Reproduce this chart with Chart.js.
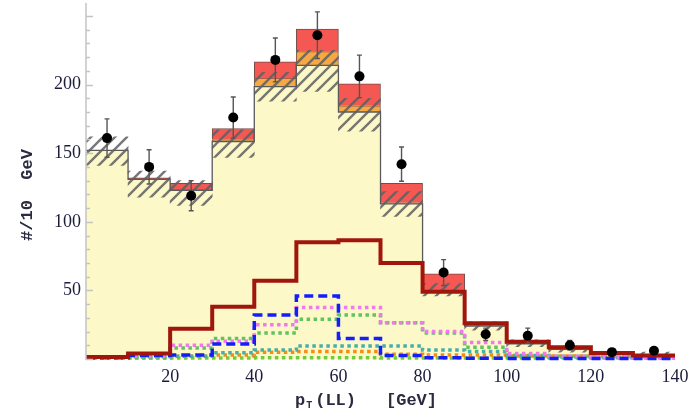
<!DOCTYPE html>
<html>
<head>
<meta charset="utf-8">
<script src="https://cdn.jsdelivr.net/npm/chart.js@4.4.0/dist/chart.umd.min.js"></script>
<style>
  html, body { margin: 0; padding: 0; background: #fff; }
</style>
</head>
<body>
<canvas id="ptChart" width="694" height="419"></canvas>
<script>
// p_T(LL) histogram, 10 GeV bins from 0 to 140
const binEdges   = [0, 10, 20, 30, 40, 50, 60, 70, 80, 90, 100, 110, 120, 130, 140];
const binCenters = [5, 15, 25, 35, 45, 55, 65, 75, 85, 95, 105, 115, 125, 135];

// stacked backgrounds (events / 10 GeV)
const bkgMain   = [152, 131, 123, 158.5, 198.5, 214, 180, 113, 49.5, 24, 11, 7, 3.5, 2];
const bkgOrange = [0, 0, 0, 1.5, 6, 10, 4.5, 1, 0, 0, 0, 0, 0, 0];
const bkgRed    = [0, 1, 5, 8, 12, 16.5, 16, 14, 12.5, 2.5, 1.5, 2, 1, 0.5];

// uncertainty band on the background
const bandLow  = [141, 118, 112, 147, 188, 195, 166, 104, 46, 21, 9, 5, 2, 1];
const bandHigh = [162, 137, 130, 167, 209, 225, 190, 122, 55, 27, 14, 9, 5, 5];

// individual components drawn as step lines
const compDarkRed = [1.5, 4, 22, 38, 57, 85, 86.5, 70, 49, 26, 12.6, 8.5, 4.3, 2.5];
const compBlue    = [1, 2.5, 3, 11, 32, 46, 15, 2.5, 1, 0.5, 0.4, 0.3, 0.3, 0.3];
const compMagenta = [1, 2, 10, 13, 25, 37.5, 37.5, 26.5, 20, 12, 4, 2, 1.5, 1];
const compGreen   = [1, 1.5, 8, 15, 19, 29, 32, 26.5, 19, 8.5, 3, 2, 1.5, 1];
const compTeal    = [1, 1, 2, 4.5, 6.5, 9.5, 9.5, 9.5, 6.5, 5.5, 2.5, 1.5, 1, 1];
const compOrange  = [1.2, 1.5, 2, 3, 5, 5.5, 5.5, 3.5, 3, 3, 2.2, 2.2, 2.2, 2.2];
const compLime    = [0.8, 0.8, 0.8, 0.8, 0.9, 0.9, 0.9, 0.8, 0.8, 0.8, 0.8, 0.8, 0.8, 0.8];

// measured data with symmetric errors
const dataY   = [161, 140, 119, 176, 218, 236, 206, 142, 63, 18, 17, 10, 5, 6];
const dataErr = [14, 12.5, 11, 15, 16, 17, 15.5, 12.5, 9.4, 4.5, 5.5, 3.5, 2.5, 2.5];

const yTickStep = 10;
const xTickStep = 20;

// ---- helpers to build library data from the arrays ----
function floatingBars(lo, hi) {
  return binCenters.map((x, i) => ({ x: x, y: [lo[i], hi[i]] }));
}
// one point per left bin edge, plus the closing edge at 140
function stepLine(values) {
  return binEdges.map((x, i) => ({ x: x, y: values[Math.min(i, values.length - 1)] }));
}
const orangeTop = bkgMain.map((v, i) => v + bkgOrange[i]);
const redTop = orangeTop.map((v, i) => v + bkgRed[i]);

// diagonal hatching for the uncertainty band
function makeHatch() {
  const c = document.createElement('canvas');
  c.width = 12; c.height = 12;
  const g = c.getContext('2d');
  g.strokeStyle = 'rgba(95,95,95,0.85)';
  g.lineWidth = 2.4;
  g.beginPath();
  g.moveTo(-3, 15); g.lineTo(15, -3);
  g.moveTo(-9, 9); g.lineTo(9, -9);
  g.moveTo(3, 21); g.lineTo(21, 3);
  g.stroke();
  return document.getElementById('ptChart').getContext('2d').createPattern(c, 'repeat');
}

function stepDataset(label, values, color, width, dash, order) {
  return {
    type: 'line', label: label, data: stepLine(values),
    stepped: 'before', borderColor: color, borderWidth: width,
    borderDash: dash, borderCapStyle: 'butt', borderJoinStyle: 'miter',
    pointRadius: 0, fill: false, order: order, clip: 4
  };
}

const barCommon = { type: 'bar', grouped: false, barPercentage: 1, categoryPercentage: 1 };

// error bars under the data points
const errorBars = {
  id: 'errorBars',
  beforeDatasetDraw(chart, args) {
    if (chart.data.datasets[args.index].label !== 'data') return;
    const { ctx, scales: { x, y } } = chart;
    ctx.save();
    ctx.strokeStyle = '#555';
    ctx.lineWidth = 1.4;
    binCenters.forEach((c, i) => {
      const px = x.getPixelForValue(c);
      const top = y.getPixelForValue(dataY[i] + dataErr[i]);
      const bot = y.getPixelForValue(dataY[i] - dataErr[i]);
      ctx.beginPath();
      ctx.moveTo(px, top); ctx.lineTo(px, bot);
      ctx.moveTo(px - 2.5, top); ctx.lineTo(px + 2.5, top);
      ctx.moveTo(px - 2.5, bot); ctx.lineTo(px + 2.5, bot);
      ctx.stroke();
    });
    ctx.restore();
  }
};

// left axis with inward ticks, plus axis titles
const axisDecor = {
  id: 'axisDecor',
  afterDatasetsDraw(chart) {
    const { ctx, chartArea, scales: { y } } = chart;
    ctx.save();
    ctx.strokeStyle = '#c4c4c4';
    ctx.lineWidth = 1.5;
    ctx.beginPath();
    ctx.moveTo(chartArea.left, chartArea.bottom + 1);
    ctx.lineTo(chartArea.left, chartArea.top - 2);
    for (let v = 0; v <= y.max; v += yTickStep) {
      const py = Math.round(y.getPixelForValue(v)) + 0.5;
      const len = v % 50 === 0 ? 7 : 4;
      ctx.moveTo(chartArea.left, py);
      ctx.lineTo(chartArea.left + len, py);
    }
    ctx.stroke();
    ctx.restore();
  },
  afterDraw(chart) {
    const ctx = chart.ctx;
    ctx.save();
    ctx.fillStyle = '#2a2a40';
    // y title
    ctx.font = 'bold 17px "Liberation Mono", monospace';
    ctx.translate(28, 195);
    ctx.rotate(-Math.PI / 2);
    ctx.textAlign = 'center';
    ctx.textBaseline = 'middle';
    ctx.fillText('#/10  GeV', 0, 0);
    ctx.restore();

    // x title with subscript
    ctx.save();
    ctx.fillStyle = '#2a2a40';
    ctx.textBaseline = 'alphabetic';
    const base = 405;
    let px = 295;
    ctx.font = 'bold 17px "Liberation Mono", monospace';
    ctx.fillText('p', px, base);
    px += ctx.measureText('p').width + 1;
    ctx.font = 'bold 10px "Liberation Mono", monospace';
    ctx.fillText('T', px, base + 3);
    px += ctx.measureText('T').width + 3;
    ctx.font = 'bold 17px "Liberation Mono", monospace';
    ctx.fillText('(LL)', px, base);
    ctx.fillText('[GeV]', 386, base);
    ctx.restore();
  }
};

const chart = new Chart(document.getElementById('ptChart'), {
  data: {
    datasets: [
      Object.assign({}, barCommon, {
        label: 'bkg', data: floatingBars(binCenters.map(() => 0), bkgMain),
        backgroundColor: 'rgb(253, 248, 200)', borderWidth: 0, order: 20
      }),
      Object.assign({}, barCommon, {
        label: 'bkg2', data: floatingBars(bkgMain, orangeTop),
        backgroundColor: 'rgb(247, 168, 66)', borderColor: '#8a6040', borderWidth: 1, order: 19
      }),
      Object.assign({}, barCommon, {
        label: 'bkg3', data: floatingBars(orangeTop, redTop),
        backgroundColor: 'rgb(245, 88, 82)', borderColor: '#7a4a44', borderWidth: 1, order: 18
      }),
      stepDataset('bkgOutline', bkgMain, '#5a5a5a', 1.3, [], 17),
      Object.assign({}, barCommon, {
        label: 'band', data: floatingBars(bandLow, bandHigh),
        backgroundColor: makeHatch(), borderWidth: 0, order: 16
      }),
      stepDataset('lime', compLime, 'rgb(110, 205, 60)', 3.5, [3.5, 3.5], 9),
      stepDataset('orange', compOrange, 'rgb(245, 140, 20)', 3.5, [3.5, 3.5], 8),
      stepDataset('teal', compTeal, 'rgb(70, 175, 170)', 3.5, [3.5, 3.5], 7),
      stepDataset('green', compGreen, 'rgb(95, 195, 95)', 3.5, [3.5, 3.5], 6),
      stepDataset('magenta', compMagenta, 'rgb(240, 120, 240)', 3.5, [3.5, 3.5], 5),
      stepDataset('blue', compBlue, 'rgb(20, 30, 250)', 3.5, [9, 5], 4),
      stepDataset('darkred', compDarkRed, 'rgb(160, 22, 12)', 4, [], 2),
      {
        type: 'scatter', label: 'data',
        data: binCenters.map((x, i) => ({ x: x, y: dataY[i] })),
        pointRadius: 5, pointBackgroundColor: '#000', pointBorderColor: '#000',
        pointBorderWidth: 0, order: 0
      }
    ]
  },
  options: {
    responsive: false,
    animation: false,
    events: [],
    layout: { padding: { left: 0, right: 19, top: 4, bottom: 0 } },
    plugins: { legend: { display: false }, tooltip: { enabled: false } },
    scales: {
      x: {
        type: 'linear', min: 0, max: 140, offset: false,
        grid: { display: false, offset: false, drawTicks: false },
        border: { display: false },
        ticks: {
          stepSize: xTickStep, padding: 7, color: '#1c1c3c',
          font: { family: "'Liberation Serif', 'Times New Roman', serif", size: 18 },
          callback: v => (v === 0 ? '' : String(v))
        },
        afterFit: s => { s.height = 60; s.paddingLeft = 0; s.paddingRight = 0; }
      },
      y: {
        type: 'linear', min: 0, max: 258,
        grid: { display: false, drawTicks: false },
        border: { display: false },
        ticks: {
          stepSize: yTickStep, padding: 5, color: '#1c1c3c',
          font: { family: "'Liberation Serif', 'Times New Roman', serif", size: 18 },
          autoSkip: false,
          callback: v => (v > 0 && v % 50 === 0 ? String(v) : '')
        },
        afterFit: s => { s.width = 86; s.paddingTop = 0; s.paddingBottom = 0; }
      }
    }
  },
  plugins: [errorBars, axisDecor]
});
</script>
</body>
</html>
